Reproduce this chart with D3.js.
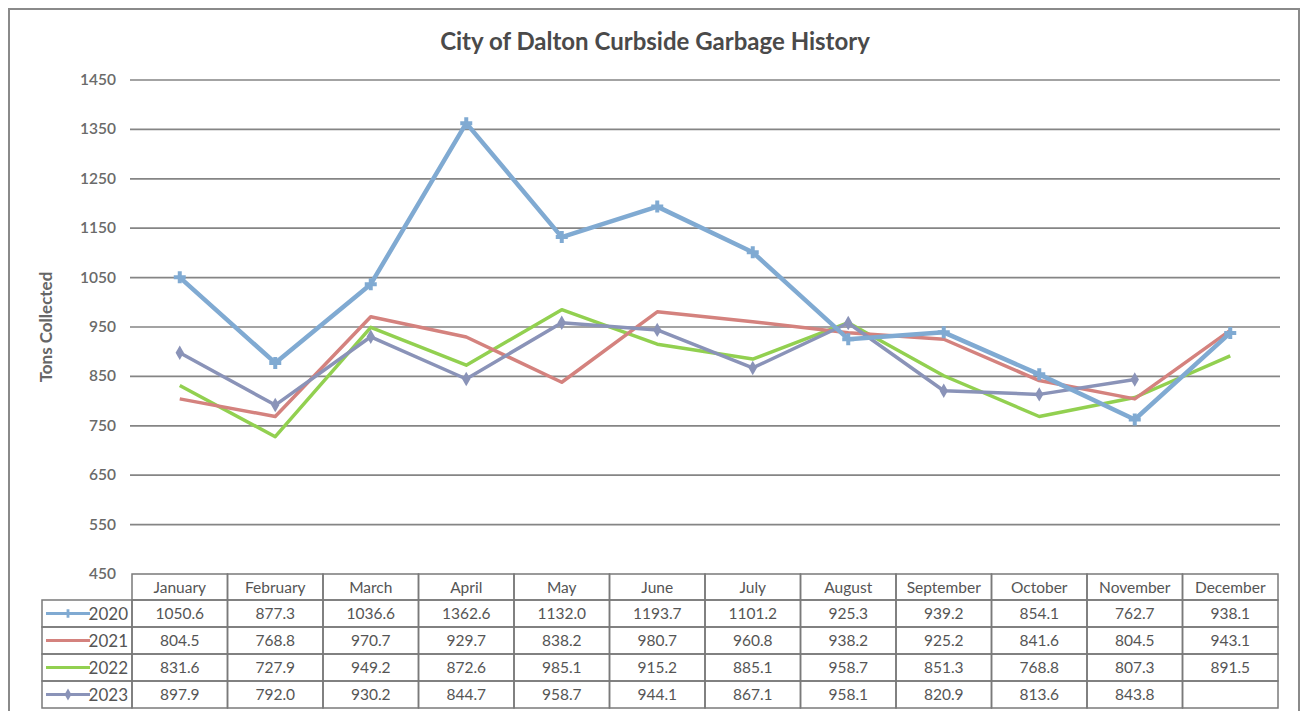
<!DOCTYPE html>
<html><head><meta charset="utf-8">
<script src="https://cdn.jsdelivr.net/npm/d3@7"></script>
<style>body{margin:0;background:#fff;}svg{display:block;font-family:Lato,"Open Sans",sans-serif;}</style>
</head><body><svg id="c" width="1301" height="711"></svg>
<script>
const months = ["January","February","March","April","May","June","July","August","September","October","November","December"];
const years = ["2020","2021","2022","2023"];
const v2020 = [1050.6,877.3,1036.6,1362.6,1132.0,1193.7,1101.2,925.3,939.2,854.1,762.7,938.1];
const v2021 = [804.5,768.8,970.7,929.7,838.2,980.7,960.8,938.2,925.2,841.6,804.5,943.1];
const v2022 = [831.6,727.9,949.2,872.6,985.1,915.2,885.1,958.7,851.3,768.8,807.3,891.5];
const v2023 = [897.9,792.0,930.2,844.7,958.7,944.1,867.1,958.1,820.9,813.6,843.8,null];
const yTicks = [450,550,650,750,850,950,1050,1150,1250,1350,1450];
const colors = ["#80aad2","#d4827e","#92d050","#8a93b8"];
const series = [v2020,v2021,v2022,v2023];

const svg = d3.select("#c");
svg.append("rect").attr("x",9).attr("y",9).attr("width",1290).attr("height",720)
  .attr("fill","#fff").attr("stroke","#8a8a8a").attr("stroke-width",2);

const x0 = 132, x1 = 1278;
const xBand = d3.scaleBand().domain(months).range([x0,x1]);
const y = d3.scaleLinear().domain([450,1450]).range([574,80]);

svg.append("text").attr("x",655).attr("y",50).attr("text-anchor","middle")
  .attr("font-size",24).attr("font-weight","bold").attr("fill","#4a4a4a")
  .text("City of Dalton Curbside Garbage History");

// grid
svg.append("g").selectAll("line").data(yTicks.slice(1)).join("line")
  .attr("x1",130).attr("x2",1280).attr("y1",d=>y(d)).attr("y2",d=>y(d))
  .attr("stroke","#858585").attr("stroke-width",1.7);
svg.append("g").selectAll("text").data(yTicks).join("text")
  .attr("x",116).attr("y",d=>y(d)+5).attr("text-anchor","end")
  .attr("font-size",15.5).attr("font-weight",600).attr("fill","#6a6a6a").text(d=>d);

svg.append("text").attr("transform","translate(52,327) rotate(-90)")
  .attr("text-anchor","middle").attr("font-size",17).attr("font-weight","bold").attr("fill","#666")
  .text("Tons Collected");

// lines
const cx = m => xBand(m) + xBand.bandwidth()/2;
const widths = [4.5,3.5,3.5,3.5];
const order = [2,1,3,0];
order.forEach(i=>{
  const data = months.map((m,j)=>({m, v: series[i][j]})).filter(d=>d.v!=null);
  const line = d3.line().x(d=>cx(d.m)).y(d=>y(d.v));
  svg.append("path").datum(data).attr("d",line).attr("fill","none")
    .attr("stroke",colors[i]).attr("stroke-width",widths[i]).attr("stroke-linejoin","round");
  const g = svg.append("g");
  if(i===0){
    g.selectAll("path").data(data).join("path")
     .attr("d",d3.symbol().type(d3.symbolCross).size(80)).attr("transform",d=>`translate(${cx(d.m)},${y(d.v)})`)
     .attr("fill",colors[i]);
  } else if(i===3){
    g.selectAll("path").data(data).join("path")
     .attr("d",d3.symbol().type(d3.symbolDiamond).size(60)).attr("transform",d=>`translate(${cx(d.m)},${y(d.v)})`)
     .attr("fill",colors[i]);
  }
});

// table
const rowY = [574,600,627,654,681,708];
const tc = "#7a7a7a";
const tg = svg.append("g");
months.forEach(m=>{
  tg.append("rect").attr("x",xBand(m)).attr("y",rowY[0]).attr("width",xBand.bandwidth()).attr("height",rowY[1]-rowY[0])
    .attr("fill","none").attr("stroke",tc).attr("stroke-width",1.5);
  tg.append("text").attr("x",cx(m)).attr("y",rowY[0]+19).attr("text-anchor","middle")
    .attr("font-size",15.5).attr("fill","#555").text(m);
});
years.forEach((yr,i)=>{
  const top = rowY[i+1], h = rowY[i+2]-rowY[i+1];
  tg.append("rect").attr("x",42).attr("y",top).attr("width",x0-42).attr("height",h)
    .attr("fill","none").attr("stroke",tc).attr("stroke-width",1.5);
  tg.append("line").attr("x1",46).attr("x2",90).attr("y1",top+h/2).attr("y2",top+h/2)
    .attr("stroke",colors[i]).attr("stroke-width",3);
  if(i===0) tg.append("path").attr("d",d3.symbol().type(d3.symbolCross).size(40)).attr("transform",`translate(68,${top+h/2})`).attr("fill",colors[i]);
  if(i===3) tg.append("path").attr("d",d3.symbol().type(d3.symbolDiamond).size(40)).attr("transform",`translate(68,${top+h/2})`).attr("fill",colors[i]);
  tg.append("text").attr("x",128).attr("y",top+h/2+6).attr("text-anchor","end")
    .attr("font-size",17).attr("fill","#555").text(yr);
  months.forEach((m,j)=>{
    tg.append("rect").attr("x",xBand(m)).attr("y",top).attr("width",xBand.bandwidth()).attr("height",h)
      .attr("fill","none").attr("stroke",tc).attr("stroke-width",1.5);
    const v = series[i][j];
    if(v!=null) tg.append("text").attr("x",cx(m)).attr("y",top+h/2+5).attr("text-anchor","middle")
      .attr("font-size",15.5).attr("fill","#555").text(v.toFixed(1));
  });
});
</script></body></html>
